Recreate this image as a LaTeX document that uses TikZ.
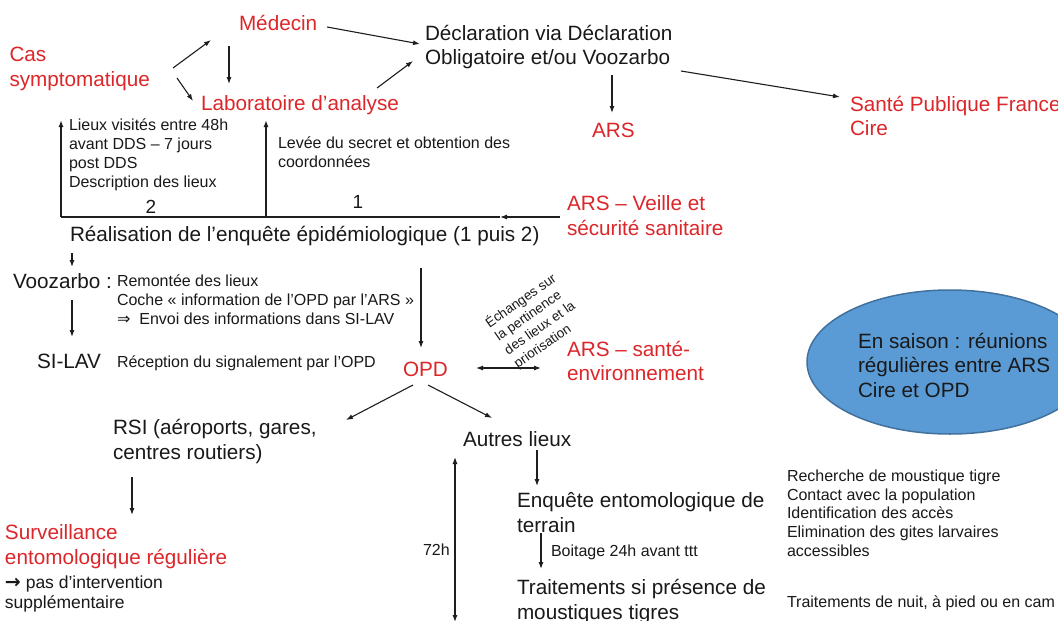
\documentclass[tikz,border=0pt]{standalone}
\usepackage{fontspec}
\setmainfont{Liberation Sans}
\newfontfamily\dejavu{DejaVu Sans}
\usetikzlibrary{arrows.meta,shapes.geometric}
\definecolor{redtxt}{RGB}{220,38,42}
\definecolor{blacktxt}{RGB}{25,25,25}
\definecolor{ellfill}{RGB}{91,155,213}
\definecolor{elldraw}{RGB}{65,113,156}
\definecolor{arrowcol}{RGB}{30,30,30}
\begin{document}
\begin{tikzpicture}[x=1pt,y=-1pt,
  txt/.style={anchor=north west, inner sep=0pt, outer sep=0pt, align=left, execute at begin node=\strut},
  big/.style={txt, font=\fontsize{20.7}{24.5}\selectfont, text=blacktxt},
  bigred/.style={big, text=redtxt},
  small/.style={txt, font=\fontsize{16}{19.2}\selectfont, text=blacktxt},
  rightsmall/.style={txt, font=\fontsize{16}{18.9}\selectfont, text=blacktxt},
  medium/.style={txt, font=\fontsize{17.5}{20}\selectfont, text=blacktxt},
  numlabel/.style={anchor=base, inner sep=0pt, font=\fontsize{19}{22}\selectfont, text=blacktxt},
  rotlabel/.style={anchor=center, inner sep=0pt, align=left, font=\fontsize{13.5}{16.5}\selectfont, text=blacktxt, rotate=35},
  arr/.style={draw=arrowcol, line width=1.1pt, -{Latex[length=7pt,width=5pt]}},
  darr/.style={draw=arrowcol, line width=1.1pt, {Latex[length=7pt,width=5pt]}-{Latex[length=7pt,width=5pt]}},
  bracketline/.style={draw=arrowcol, line width=1.6pt},
  bracketarr/.style={draw=arrowcol, line width=1.4pt, -{Latex[length=7pt,width=5pt]}},
  bubble/.style={ellipse, draw=elldraw, fill=ellfill, line width=1.5pt, inner sep=0pt, minimum width=286pt, minimum height=144pt}
]
\useasboundingbox (0,0) rectangle (1058,621);
\fill[white] (0,0) rectangle (1058,621);
\clip (0,0) rectangle (1058,621);

% ---- top part
\node[bigred] (med) at (239,12.85) {Médecin};
\node[bigred] (cas) at (9.5,47.5) {Cas\\symptomatique};
\node[bigred] (labo) at (201,92.85) {Laboratoire d’analyse};
\node[big] (decl) at (425,24.85) {Déclaration via Déclaration\\Obligatoire et/ou Voozarbo};
\node[bigred] (ars) at (592,119.85) {ARS};
\node[bigred] (spf) at (850,95.85) {Santé Publique France\\Cire};

\coordinate (casA) at (173,68);  \coordinate (medA) at (211,40);
\coordinate (casB) at (177,78);  \coordinate (laboA) at (193,101);
\coordinate (medB) at (229,46);  \coordinate (laboB) at (229,84);
\coordinate (medC) at (327,27);  \coordinate (declA) at (420,44);
\coordinate (laboC) at (377,88); \coordinate (declB) at (413,61);
\coordinate (declC) at (612,75); \coordinate (arsA) at (612,113);
\coordinate (declD) at (681,71); \coordinate (spfA) at (840,97);

\draw[arr] (casA) -- (medA);
\draw[arr] (casB) -- (laboA);
\draw[arr] (medB) -- (laboB);
\draw[arr] (medC) -- (declA);
\draw[arr] (laboC) -- (declB);
\draw[arr] (declC) -- (arsA);
\draw[arr] (declD) -- (spfA);

% ---- bracket
\node[small] (lieux) at (69,118.56) {Lieux visités entre 48h\\avant DDS – 7 jours\\post DDS\\Description des lieux};
\node[small] (levee) at (278,136.56) {Levée du secret et obtention des\\coordonnées};
\node[numlabel] (n2) at (151,213) {2};
\node[numlabel] (n1) at (358,208) {1};
\node[bigred] (veille) at (567,195.85) {ARS – Veille et\\sécurité sanitaire};
\node[big] (real) at (70,223.85) {Réalisation de l’enquête épidémiologique (1 puis 2)};

\coordinate (bL) at (61,217);  \coordinate (bLtop) at (61,120);
\coordinate (bM) at (266,217); \coordinate (bMtop) at (266,120);
\coordinate (bR) at (500,217); \coordinate (veilleA) at (560,217);
\draw[bracketline] (bL) -- (bR);
\draw[bracketarr] (bL) -- (bLtop);
\draw[bracketarr] (bM) -- (bMtop);
\draw[arr] (veilleA) -- (bR);

% ---- Voozarbo / SI-LAV
\node[big] (vooz) at (13,270.85) {Voozarbo :};
\node[small] (remontee) at (117,274.56) {Remontée des lieux\\Coche « information de l’OPD par l’ARS »\\{\dejavu ⇒}\hspace{9pt}Envoi des informations dans SI-LAV};
\node[big] (silav) at (37,350.85) {SI-LAV};
\node[small] (recep) at (117,353.56) {Réception du signalement par l’OPD};

\coordinate (realA) at (72,253); \coordinate (voozA) at (72,267);
\coordinate (voozB) at (72,300); \coordinate (silavA) at (72,337);
\draw[arr] (realA) -- (voozA);
\draw[arr] (voozB) -- (silavA);

% ---- OPD
\node[bigred] (opd) at (403,359.5) {OPD};
\node[bigred] (arssante) at (567,340.85) {ARS – santé-\\environnement};
\node[rotlabel] (echanges) at (535,321) {Échanges sur\\la pertinence\\des lieux et la\\priorisation};

\coordinate (realB) at (421,268); \coordinate (opdA) at (421,348);
\coordinate (opdB) at (476,368);  \coordinate (arssA) at (541,368);
\draw[arr] (realB) -- (opdA);
\draw[darr] (opdB) -- (arssA);

% ---- ellipse
\node[bubble] (ell) at (950,362) {};
\node[big] (elltext) at (858,332.85) {En saison : réunions\\régulières entre ARS\\Cire et OPD};

% ---- lower part
\node[big] (rsi) at (113,419.5) {RSI (aéroports, gares,\\centres routiers)};
\node[bigred] (surv) at (5,524.5) {Surveillance\\entomologique régulière};
\node[medium] (pasd) at (5,576) {{\dejavu\bfseries\fontsize{19}{20}\selectfont →} pas d’intervention\\supplémentaire};
\node[big] (autres) at (463,429.5) {Autres lieux};
\node[big] (enq) at (517,492.85) {Enquête entomologique de\\terrain};
\node[small] (boit) at (551,543.3) {Boitage 24h avant ttt};
\node[big] (trait) at (517,579.5) {Traitements si présence de\\moustiques tigres};
\node[small] (h72) at (423,541.56) {72h};
\node[rightsmall] (actions) at (787,469.56) {Recherche de moustique tigre\\Contact avec la population\\Identification des accès\\Elimination des gites larvaires\\accessibles};
\node[small] (nuit) at (787,593.56) {Traitements de nuit, à pied ou en cam};

\coordinate (opdC) at (413,385); \coordinate (rsiA) at (346,420);
\coordinate (opdD) at (428,385); \coordinate (autresA) at (492,418);
\coordinate (rsiB) at (132,477); \coordinate (survA) at (132,515);
\coordinate (autresB) at (537,450); \coordinate (enqA) at (537,486);
\coordinate (enqB) at (541,533); \coordinate (traitA) at (541,569);
\coordinate (tTop) at (455,457); \coordinate (tBot) at (455,622);
\draw[arr] (opdC) -- (rsiA);
\draw[arr] (opdD) -- (autresA);
\draw[arr] (rsiB) -- (survA);
\draw[arr] (autresB) -- (enqA);
\draw[arr] (enqB) -- (traitA);
\draw[darr] (tTop) -- (tBot);
\end{tikzpicture}
\end{document}
